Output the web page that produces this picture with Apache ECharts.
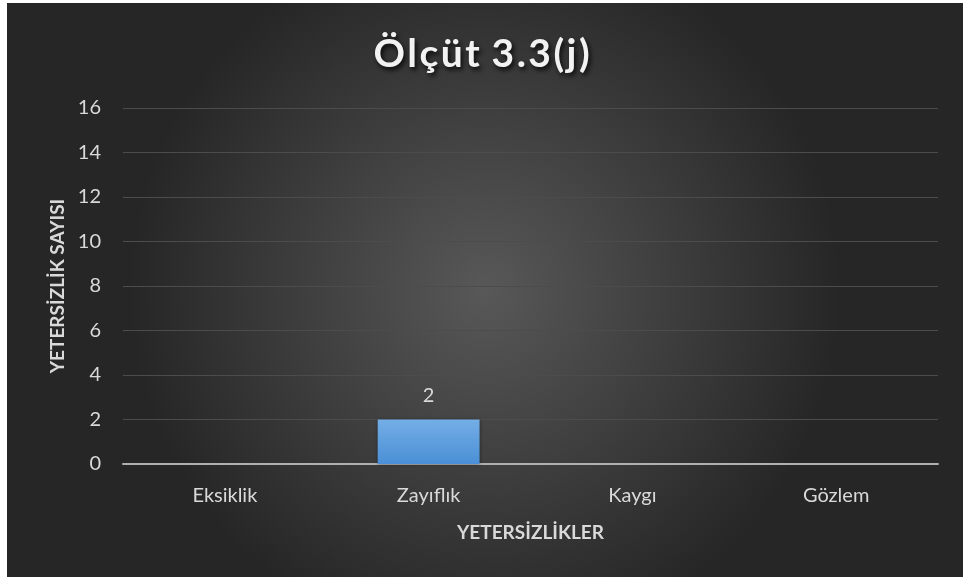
<!DOCTYPE html>
<html>
<head>
<meta charset="utf-8">
<script src="https://cdn.jsdelivr.net/npm/echarts@6/dist/echarts.min.js"></script>
<style>
  html, body { margin: 0; padding: 0; background: #ffffff; }
  #chart { width: 963px; height: 577px; }
</style>
</head>
<body>
<div id="chart"></div>
<script>
// veriler
const categories = ['Eksiklik', 'Zayıflık', 'Kaygı', 'Gözlem'];
const counts = [0, 2, 0, 0];
const yTicks = [0, 2, 4, 6, 8, 10, 12, 14, 16];

const fontFamily = 'Lato, "Open Sans", sans-serif';

const chart = echarts.init(document.getElementById('chart'), null, { renderer: 'canvas' });

chart.setOption({
  backgroundColor: '#ffffff',
  animation: false,
  graphic: [
    {
      type: 'rect',
      z: -10,
      silent: true,
      shape: { x: 7, y: 3, width: 956, height: 574 },
      style: {
        fill: {
          type: 'radial',
          x: 0.5, y: 0.5, r: 0.62,
          colorStops: [
            { offset: 0, color: '#585858' },
            { offset: 1, color: '#262626' }
          ]
        }
      }
    }
  ],
  title: {
    text: 'Ö l ç ü t  3 . 3 ( j )'.replace(/ (?! )/g, '\u200A'),
    left: 'center',
    top: 30,
    textStyle: {
      color: '#f2f2f2',
      fontSize: 39,
      fontWeight: 'bold',
      fontFamily: fontFamily,
      textShadowColor: 'rgba(0,0,0,0.85)',
      textShadowBlur: 5,
      textShadowOffsetX: 2,
      textShadowOffsetY: 3
    }
  },
  grid: { left: 123, right: 25, top: 108, bottom: 113, containLabel: false },
  xAxis: {
    type: 'category',
    data: categories,
    name: 'YETERSİZLİKLER',
    nameLocation: 'middle',
    nameGap: 59,
    nameTextStyle: { color: '#d9d9d9', fontSize: 19, fontWeight: 'bold', fontFamily: fontFamily },
    axisLine: { lineStyle: { color: '#b0b0b0', width: 2 } },
    axisTick: { show: false },
    axisLabel: { color: '#d9d9d9', fontSize: 20, margin: 22, fontFamily: fontFamily }
  },
  yAxis: {
    type: 'value',
    min: 0,
    max: 16,
    interval: 2,
    name: 'YETERSİZLİK SAYISI',
    nameLocation: 'middle',
    nameGap: 55,
    nameRotate: 90,
    nameTextStyle: { color: '#d9d9d9', fontSize: 19, fontWeight: 'bold', fontFamily: fontFamily },
    axisLine: { show: false },
    axisTick: { show: false },
    axisLabel: {
      color: '#d9d9d9',
      fontSize: 20,
      margin: 22,
      fontFamily: fontFamily,
      formatter: (v) => (yTicks.includes(v) ? String(v) : '')
    },
    splitLine: { lineStyle: { color: '#4c4c4c', width: 1 } }
  },
  series: [
    {
      type: 'bar',
      data: counts,
      barWidth: '50%',
      itemStyle: {
        color: {
          type: 'linear', x: 0, y: 0, x2: 0, y2: 1,
          colorStops: [
            { offset: 0, color: '#74aee6' },
            { offset: 1, color: '#4a8fd6' }
          ]
        },
        shadowColor: 'rgba(0,0,0,0.4)',
        shadowBlur: 4
      },
      label: {
        show: true,
        position: 'top',
        distance: 14,
        color: '#d9d9d9',
        fontSize: 20,
        fontFamily: fontFamily,
        formatter: (p) => (p.value > 0 ? String(p.value) : '')
      }
    }
  ]
});
</script>
</body>
</html>
